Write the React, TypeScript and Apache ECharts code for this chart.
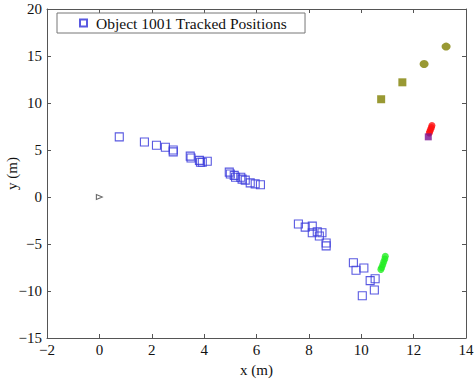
import React, { useEffect, useRef } from "react";
import * as echarts from "echarts";

const trackedX = [0.76, 1.72, 2.18, 2.52, 2.82, 2.82, 3.47, 3.5, 3.82, 3.86, 3.93, 4.12, 4.96, 5.0, 5.15, 5.2, 5.4, 5.45, 5.57, 5.76, 5.95, 6.15, 7.6, 7.86, 8.13, 8.13, 8.32, 8.4, 8.5, 8.66, 8.66, 9.7, 9.8, 10.1, 10.34, 10.53, 10.5, 10.04];
const trackedY = [6.4, 5.85, 5.5, 5.3, 5.0, 4.8, 4.35, 4.15, 3.9, 3.7, 3.7, 3.8, 2.65, 2.45, 2.3, 2.1, 2.1, 1.9, 1.8, 1.5, 1.4, 1.3, -2.87, -3.2, -3.1, -3.8, -3.7, -4.15, -3.8, -4.9, -5.2, -7.0, -7.8, -7.55, -8.9, -8.7, -9.9, -10.5];

const greenX = [10.92, 10.9, 10.86, 10.82, 10.78, 10.75];
const greenY = [-6.3, -6.6, -6.9, -7.2, -7.5, -7.7];

const redX = [12.7, 12.68, 12.65, 12.62, 12.6];
const redY = [7.6, 7.4, 7.2, 7.0, 6.8];

const purpleX = [12.56];
const purpleY = [6.4];

const oliveCircleX = [13.24, 12.4];
const oliveCircleY = [16.0, 14.15];

const oliveSquareX = [11.57, 10.76];
const oliveSquareY = [12.2, 10.4];

const originX = [0];
const originY = [0];

const xTicks = { min: -2, max: 14, interval: 2 };
const yTicks = { min: -15, max: 20, interval: 5 };

const legendLabel = "Object 1001 Tracked Positions";

const zip = (xs: number[], ys: number[]) => xs.map((x, i) => [x, ys[i]]);

const FONT = "Liberation Serif";

const fmt = (v: number) => (v < 0 ? "\u2212" + Math.abs(v) : String(v));

export default function App() {
  const ref = useRef<HTMLDivElement>(null);
  useEffect(() => {
    if (!ref.current) return;
    const chart = echarts.init(ref.current, null, { renderer: "svg" });
    const axisCommon = {
      axisLine: { show: true, onZero: false, lineStyle: { color: "#555", width: 1 } },
      axisTick: { show: true, inside: true, length: 4, lineStyle: { color: "#555" } },
      splitLine: { show: false },
    };
    chart.setOption({
      animation: false,
      backgroundColor: "#fff",
      grid: { left: 47, right: 8, top: 9, bottom: 41, show: false, containLabel: false, outerBoundsMode: "none" },
      legend: {
        data: [legendLabel],
        left: 57,
        top: 13,
        padding: [2, 18, 2, 22],
        backgroundColor: "#fff",
        borderColor: "#777",
        borderWidth: 1,
        borderRadius: 0,
        icon: "rect",
        itemWidth: 7,
        itemHeight: 7,
        itemGap: 10,
        textStyle: { fontFamily: FONT, fontSize: 15.5, color: "#111", padding: [0, 0, 0, 4] },
      },
      xAxis: [
        {
          type: "value",
          ...xTicks,
          position: "bottom",
          ...axisCommon,
          axisLabel: { fontFamily: FONT, fontSize: 15, color: "#111", margin: 4, formatter: fmt },
          name: "x (m)",
          nameLocation: "middle",
          nameGap: 24,
          nameMoveOverlap: false,
          nameTextStyle: { fontFamily: FONT, fontSize: 15, color: "#111" },
        },
        {
          type: "value",
          ...xTicks,
          position: "top",
          ...axisCommon,
          axisLabel: { show: false },
        },
      ],
      yAxis: [
        {
          type: "value",
          ...yTicks,
          position: "left",
          ...axisCommon,
          axisLabel: { fontFamily: FONT, fontSize: 15, color: "#111", margin: 5, formatter: fmt },
          name: "y (m)",
          nameLocation: "middle",
          nameGap: 28,
          nameMoveOverlap: false,
          nameTextStyle: { fontFamily: FONT, fontSize: 15, color: "#111" },
        },
        {
          type: "value",
          ...yTicks,
          position: "right",
          ...axisCommon,
          axisLabel: { show: false },
        },
      ],
      series: [
        {
          name: legendLabel,
          type: "scatter",
          data: zip(trackedX, trackedY),
          symbol: "rect",
          symbolSize: 8,
          itemStyle: { color: "rgba(255,255,255,0)", borderColor: "#3c3cdc", borderWidth: 1.1, opacity: 0.85 },
        },
        {
          name: "green",
          type: "scatter",
          data: zip(greenX, greenY),
          symbol: "circle",
          symbolSize: 7,
          itemStyle: { color: "#22ee22" },
        },
        {
          name: "red",
          type: "scatter",
          data: zip(redX, redY),
          symbol: "circle",
          symbolSize: 7,
          itemStyle: { color: "#ff1010" },
        },
        {
          name: "purple",
          type: "scatter",
          data: zip(purpleX, purpleY),
          symbol: "rect",
          symbolSize: 7,
          itemStyle: { color: "#7a1090" },
        },
        {
          name: "oliveCircle",
          type: "scatter",
          data: zip(oliveCircleX, oliveCircleY),
          symbol: "circle",
          symbolSize: [9, 8],
          itemStyle: { color: "#808000" },
        },
        {
          name: "oliveSquare",
          type: "scatter",
          data: zip(oliveSquareX, oliveSquareY),
          symbol: "rect",
          symbolSize: 8,
          itemStyle: { color: "#808000" },
        },
        {
          name: "origin",
          type: "scatter",
          data: zip(originX, originY),
          symbol: "triangle",
          symbolRotate: -90,
          symbolSize: [5, 6],
          itemStyle: { color: "#fff", borderColor: "#444", borderWidth: 1 },
        },
      ],
    });
    return () => chart.dispose();
  }, []);
  return <div ref={ref} style={{ width: 474, height: 379, position: "absolute", left: 0, top: 0 }} />;
}
